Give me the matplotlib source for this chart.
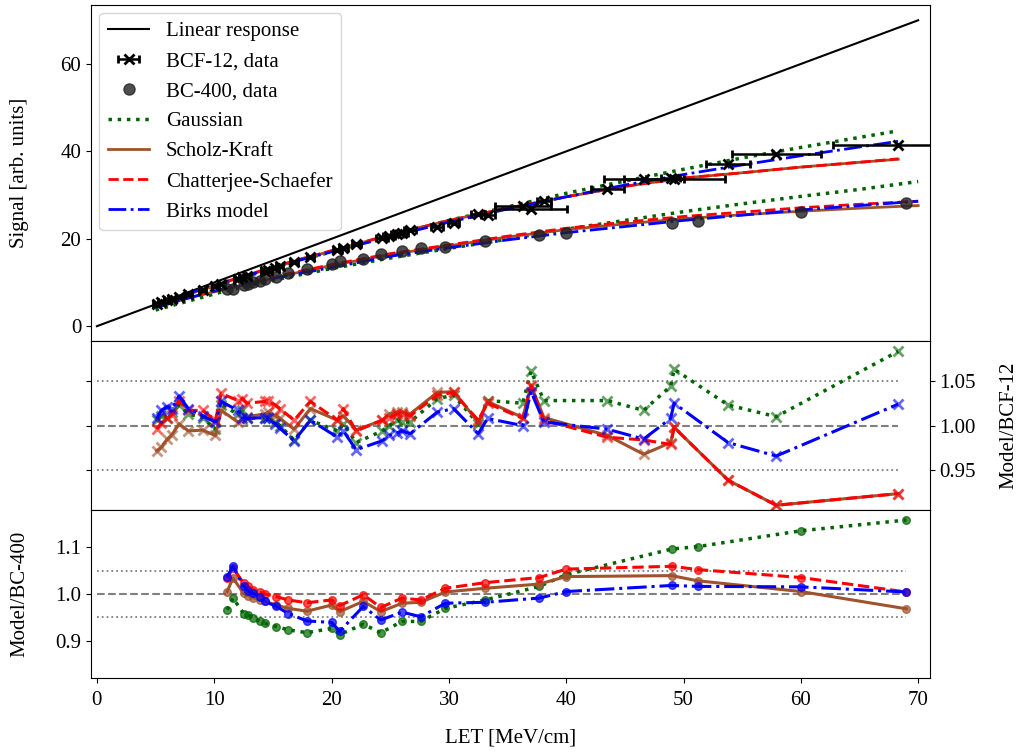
import numpy as np
import matplotlib
matplotlib.use("Agg")
import matplotlib.pyplot as plt

plt.rcParams['font.family'] = ['Liberation Serif', 'DejaVu Serif']
plt.rcParams['mathtext.fontset'] = 'stix'
plt.rcParams['font.size'] = 15

# BCF-12 data (LET in MeV/cm, signal in arb. units)
let_bcf = [5.1, 5.5, 6.0, 6.4, 7.0, 7.8, 9.0, 10.1, 10.6, 12.0, 12.4, 12.8, 14.3, 14.6,
           15.2, 15.6, 16.8, 18.2, 20.5, 21.0, 22.1, 24.3, 24.9, 25.6, 26.0, 26.7, 29.0,
           30.4, 32.5, 33.3, 36.3, 37.0, 38.1, 43.5, 46.6, 48.9, 49.2, 53.8, 57.9, 68.3]
sig_bcf = [5.1, 5.5, 5.9, 6.2, 6.7, 7.3, 8.3, 9.2, 9.7, 10.9, 11.2, 11.4, 12.6, 12.9,
           13.4, 13.7, 14.6, 15.8, 17.5, 17.9, 18.8, 20.2, 20.7, 21.1, 21.4, 21.9, 22.8,
           23.6, 25.6, 25.4, 27.4, 26.9, 28.6, 31.5, 33.6, 33.9, 33.6, 37.0, 39.5, 41.4]
xerr_bcf = [0.3, 0.3, 0.3, 0.3, 0.3, 0.3, 0.3, 0.3, 0.3, 0.3, 0.3, 0.3, 0.3, 0.3,
            0.3, 0.3, 0.3, 0.3, 0.4, 0.4, 0.4, 0.5, 0.5, 0.5, 0.5, 0.5, 0.5,
            0.5, 0.6, 0.6, 2.4, 3.1, 0.6, 1.4, 3.4, 0.8, 4.3, 1.9, 3.8, 5.6]

# BC-400 data
let_bc = [11.1, 11.6, 12.5, 12.9, 13.3, 13.9, 14.3, 15.3, 16.3, 17.9, 20.0, 20.7, 22.7,
          24.2, 26.0, 27.6, 29.7, 33.1, 37.7, 40.0, 49.0, 51.2, 60.0, 69.0]
sig_bc = [8.45, 8.55, 9.4, 9.75, 10.0, 10.35, 10.7, 11.3, 12.1, 13.2, 14.3, 14.9, 15.3,
          16.5, 17.1, 17.9, 18.2, 19.45, 20.9, 21.3, 23.5, 24.1, 26.2, 28.3]

# model curves, top panel
let_mod_bcf = [5, 8, 11, 14, 17, 20, 25, 30, 35, 40, 45, 50, 55, 60, 65, 68.3]
gauss_bcf = [5.1, 7.5, 10.0, 12.4, 14.9, 17.0, 20.8, 24.2, 27.3, 30.4, 33.2, 35.9, 38.5, 40.9, 43.2, 44.7]
scholz_bcf = [4.95, 7.5, 10.1, 12.6, 15.0, 17.2, 20.9, 24.2, 27.0, 29.6, 32.0, 33.9, 35.1, 36.4, 37.5, 38.2]
chatt_bcf = [5.0, 7.6, 10.2, 12.7, 15.1, 17.3, 20.9, 24.2, 27.0, 29.6, 32.0, 33.9, 35.1, 36.4, 37.5, 38.3]
birks_bcf = [5.1, 7.7, 10.2, 12.5, 14.9, 17.0, 20.5, 23.8, 26.8, 29.6, 32.3, 34.7, 36.9, 39.0, 41.0, 42.3]

let_mod_bc = [5, 8, 11, 14, 17, 20, 25, 30, 35, 40, 45, 50, 55, 60, 65, 70]
gauss_bc = [3.7, 5.9, 8.1, 9.9, 11.6, 13.2, 15.6, 17.8, 19.9, 22.2, 24.2, 26.2, 28.0, 29.7, 31.3, 33.1]
scholz_bc = [4.3, 6.6, 8.5, 10.3, 12.2, 13.9, 16.4, 18.4, 20.4, 22.1, 23.4, 24.6, 25.5, 26.3, 27.0, 27.6]
chatt_bc = [4.4, 6.7, 8.7, 10.5, 12.4, 14.1, 16.6, 18.6, 20.6, 22.4, 23.8, 25.1, 26.1, 27.1, 27.9, 28.6]
birks_bc = [4.3, 6.6, 8.7, 10.35, 11.95, 13.4, 16.0, 17.95, 19.75, 21.4, 22.8, 24.2, 25.4, 26.6, 27.6, 28.6]

# model / BCF-12
r_gauss_bcf = [1.006, 1.011, 1.009, 1.015, 1.023, 1.013, 1.009, 0.996, 1.023, 1.013, 1.017, 1.008,
               1.009, 1.008, 1.004, 1.000, 0.984, 1.006, 0.994, 1.002, 0.981, 0.994, 1.000, 1.006,
               1.004, 1.004, 1.030, 1.034, 1.002, 1.028, 1.025, 1.061, 1.028, 1.028, 1.017, 1.044,
               1.063, 1.023, 1.010, 1.083]
r_scholz_bcf = [0.972, 0.976, 0.985, 0.990, 1.002, 0.994, 0.995, 0.989, 1.017, 1.004, 1.006, 1.010,
                1.013, 1.015, 1.011, 1.008, 0.996, 1.019, 1.006, 1.011, 0.995, 1.006, 1.013, 1.015,
                1.015, 1.013, 1.037, 1.038, 1.004, 1.027, 1.009, 1.045, 1.009, 0.989, 0.968, 0.981,
                0.998, 0.939, 0.911, 0.924]
r_chatt_bcf = [0.996, 1.003, 1.008, 1.012, 1.028, 1.017, 1.017, 1.006, 1.036, 1.028, 1.030, 1.025,
               1.027, 1.027, 1.023, 1.019, 1.006, 1.027, 1.006, 1.019, 0.994, 1.006, 1.009, 1.013,
               1.013, 1.011, 1.034, 1.037, 1.006, 1.025, 1.008, 1.044, 1.006, 0.987, 0.984, 0.979,
               0.998, 0.939, 0.911, 0.924]
r_birks_bcf = [1.008, 1.017, 1.021, 1.019, 1.033, 1.019, 1.011, 1.004, 1.027, 1.017, 1.009, 1.008,
               1.009, 1.008, 1.002, 0.997, 0.983, 1.006, 0.987, 0.994, 0.973, 0.983, 0.989, 0.992,
               0.994, 0.991, 1.015, 1.019, 0.991, 1.008, 1.000, 1.038, 1.004, 0.996, 0.985, 1.008,
               1.025, 0.981, 0.966, 1.024]

# model / BC-400
r_gauss_bc = [0.966, 0.991, 0.958, 0.955, 0.948, 0.941, 0.937, 0.930, 0.923, 0.917, 0.926, 0.913,
              0.935, 0.917, 0.941, 0.941, 0.969, 0.987, 1.016, 1.041, 1.096, 1.101, 1.135, 1.158]
r_scholz_bc = [1.005, 1.034, 1.001, 0.996, 0.992, 0.987, 0.984, 0.976, 0.969, 0.963, 0.976, 0.962,
               0.984, 0.962, 0.980, 0.982, 1.004, 1.012, 1.021, 1.037, 1.039, 1.028, 1.005, 0.968]
r_chatt_bc = [1.034, 1.055, 1.023, 1.016, 1.009, 1.004, 1.000, 0.994, 0.987, 0.981, 0.987, 0.975,
              0.998, 0.971, 0.991, 0.987, 1.012, 1.024, 1.035, 1.053, 1.059, 1.052, 1.035, 1.004]
r_birks_bc = [1.037, 1.059, 1.016, 1.006, 1.001, 0.994, 0.984, 0.973, 0.958, 0.942, 0.939, 0.920,
              0.973, 0.944, 0.961, 0.951, 0.980, 0.982, 0.991, 1.005, 1.018, 1.016, 1.015, 1.004]

models = [
    ("Gaussian", "darkgreen", ":", gauss_bcf, gauss_bc, r_gauss_bcf, r_gauss_bc),
    ("Scholz-Kraft", "sienna", "-", scholz_bcf, scholz_bc, r_scholz_bcf, r_scholz_bc),
    ("Chatterjee-Schaefer", "red", "--", chatt_bcf, chatt_bc, r_chatt_bcf, r_chatt_bc),
    ("Birks model", "blue", "-.", birks_bcf, birks_bc, r_birks_bcf, r_birks_bc),
]

fig, (ax1, ax2, ax3) = plt.subplots(3, 1, sharex=True, figsize=(10.23, 7.53), dpi=100,
                                    gridspec_kw={'height_ratios': [2, 1, 1], 'hspace': 0})
fig.subplots_adjust(left=0.089, right=0.909, bottom=0.0996, top=0.9934)

# top panel
ax1.plot([0, 70], [0, 70], color='k', lw=1.5, label='Linear response')
ax1.errorbar(let_bcf, sig_bcf, xerr=xerr_bcf, fmt='x', color='k', ms=7, mew=2,
             capsize=3, elinewidth=1.8, label='BCF-12, data', zorder=3)
ax1.plot(let_bc, sig_bc, 'o', color='#222222', alpha=0.8, ms=8, label='BC-400, data', zorder=3)
for name, col, ls, m_bcf, m_bc, _, _ in models:
    lw = 2.5 if ls == ':' else 2
    ax1.plot(let_mod_bcf, m_bcf, color=col, ls=ls, lw=lw, label=name)
    ax1.plot(let_mod_bc, m_bc, color=col, ls=ls, lw=lw)
ax1.set_ylabel('Signal [arb. units]')
ax1.set_yticks([0, 20, 40, 60])
ax1.set_ylim(-3.5, 73.5)
handles, labels = ax1.get_legend_handles_labels()
order = ['Linear response', 'BCF-12, data', 'BC-400, data', 'Gaussian', 'Scholz-Kraft',
         'Chatterjee-Schaefer', 'Birks model']
hmap = dict(zip(labels, handles))
ax1.legend([hmap[k] for k in order], order, loc='upper left', fontsize=15,
           borderaxespad=0.4)
ax1.yaxis.set_label_coords(-0.074, 0.5)

# middle panel
ax2.hlines([0.95, 1.05], 0, max(let_bcf), colors='gray', linestyles=':', lw=1.3)
ax2.hlines(1.0, 0, max(let_bcf), colors='gray', linestyles='--', lw=1.5)
for name, col, ls, _, _, r_bcf, _ in models:
    lw = 2.5 if ls == ':' else 2.2
    ax2.plot(let_bcf, r_bcf, color=col, ls=ls, lw=lw)
    ax2.plot(let_bcf, r_bcf, 'x', color=col, ms=7, mew=2, alpha=0.6)
ax2.set_ylim(0.906, 1.094)
ax2.set_yticks([0.95, 1.00, 1.05])
ax2.yaxis.set_label_position('right')
ax2.tick_params(axis='y', left=True, right=True, labelleft=False, labelright=True)
ax2.set_ylabel('Model/BCF-12')
ax2.yaxis.set_label_coords(1.083, 0.5)

# bottom panel
ax3.hlines([0.95, 1.05], 0, max(let_bc), colors='gray', linestyles=':', lw=1.3)
ax3.hlines(1.0, 0, max(let_bc), colors='gray', linestyles='--', lw=1.5)
for name, col, ls, _, _, _, r_bc in models:
    lw = 2.5 if ls == ':' else 2.2
    ax3.plot(let_bc, r_bc, color=col, ls=ls, lw=lw)
    ax3.plot(let_bc, r_bc, 'o', color=col, ms=5.5, alpha=0.7)
ax3.set_ylim(0.82, 1.18)
ax3.set_yticks([0.9, 1.0, 1.1])
ax3.set_ylabel('Model/BC-400')
ax3.yaxis.set_label_coords(-0.074, 0.5)
ax3.set_xlabel('LET [MeV/cm]')
ax3.xaxis.set_label_coords(0.5, -0.3)
ax3.tick_params(axis='x', pad=6)
ax3.set_xlim(-0.5, 71)
ax3.set_xticks(np.arange(0, 71, 10))

fig.savefig('out.png', dpi=100)
